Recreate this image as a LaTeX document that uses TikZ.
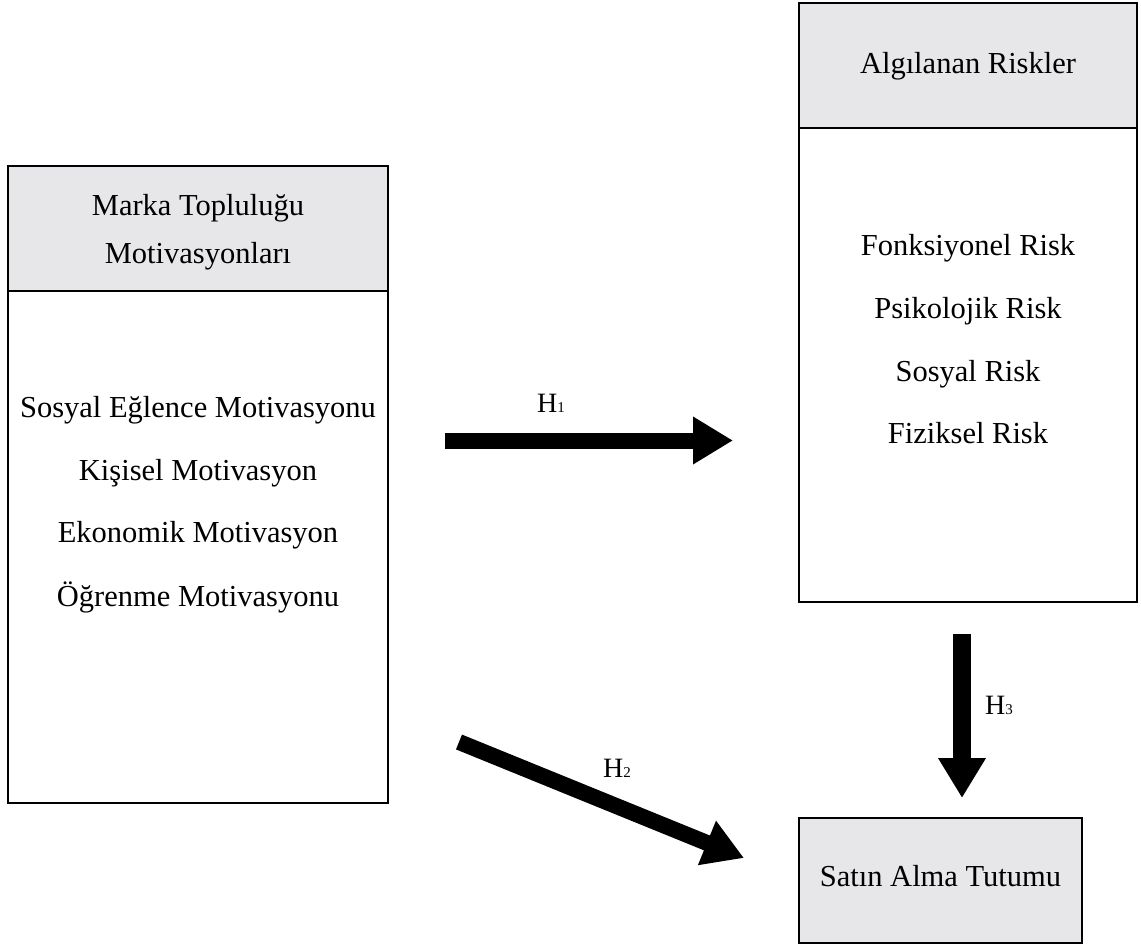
\documentclass[tikz,border=0pt]{standalone}
\usepackage{fontspec}
\setmainfont{Liberation Serif}
\usetikzlibrary{arrows.meta}
\definecolor{hdrgray}{HTML}{E7E7E9}
\tikzset{
  boxframe/.style={draw=black, line width=2.5pt, inner sep=0pt},
  hdrbox/.style={boxframe, fill=hdrgray},
  bodybox/.style={boxframe, fill=white},
  itemtext/.style={anchor=base, inner sep=0pt, font=\fontsize{30.5}{36}\selectfont},
  hlabel/.style={anchor=base west, inner sep=0pt, font=\fontsize{28}{32}\selectfont},
  bigarrow/.style={line width=16pt, -{Triangle[length=40pt,width=45pt]}},
}
\newcommand{\hsub}[1]{H{\fontsize{15}{15}\selectfont #1}}
\begin{document}
\begin{tikzpicture}[x=1pt, y=-1pt]
  \useasboundingbox (0,0) rectangle (1141,947);

  % left block: community motivations
  \node[bodybox, minimum width=380pt, minimum height=512pt] (lbody) at (198,547) {};
  \node[hdrbox, minimum width=380pt, minimum height=125pt] (lhead) at (198,228.5) {};
  \node[itemtext] (lt1) at (198,215) {Marka Topluluğu};
  \node[itemtext] (lt2) at (198,263) {Motivasyonları};
  \node[itemtext] (m1) at (198,417) {Sosyal Eğlence Motivasyonu};
  \node[itemtext] (m2) at (198,480) {Kişisel Motivasyon};
  \node[itemtext] (m3) at (198,542) {Ekonomik Motivasyon};
  \node[itemtext] (m4) at (198,606) {Öğrenme Motivasyonu};

  % right block: perceived risks
  \node[bodybox, minimum width=338pt, minimum height=474pt] (rbody) at (968,365) {};
  \node[hdrbox, minimum width=338pt, minimum height=125pt] (rhead) at (968,65.5) {};
  \node[itemtext] (rtitle) at (968,74) {Algılanan Riskler};
  \node[itemtext] (r1) at (968,255) {Fonksiyonel Risk};
  \node[itemtext] (r2) at (968,318) {Psikolojik Risk};
  \node[itemtext] (r3) at (968,381) {Sosyal Risk};
  \node[itemtext] (r4) at (968,443) {Fiziksel Risk};

  % outcome block
  \node[hdrbox, minimum width=283pt, minimum height=125pt] (out) at (940.5,880.5) {};
  \node[itemtext] (outtext) at (940.5,886) {Satın Alma Tutumu};

  % hypothesis arrows
  \coordinate (h1a) at (445,440.5);
  \coordinate (h1b) at (733,440.5);
  \coordinate (h2a) at (459,742);
  \coordinate (h2b) at (744,858);
  \coordinate (h3a) at (962,634);
  \coordinate (h3b) at (962,798);
  \draw[bigarrow] (h1a) -- (h1b);
  \draw[bigarrow] (h2a) -- (h2b);
  \draw[bigarrow, line width=18pt] (h3a) -- (h3b);

  \node[hlabel] (l1) at (537,412) {\hsub{1}};
  \node[hlabel] (l2) at (603,777) {\hsub{2}};
  \node[hlabel] (l3) at (985,714) {\hsub{3}};
\end{tikzpicture}
\end{document}
